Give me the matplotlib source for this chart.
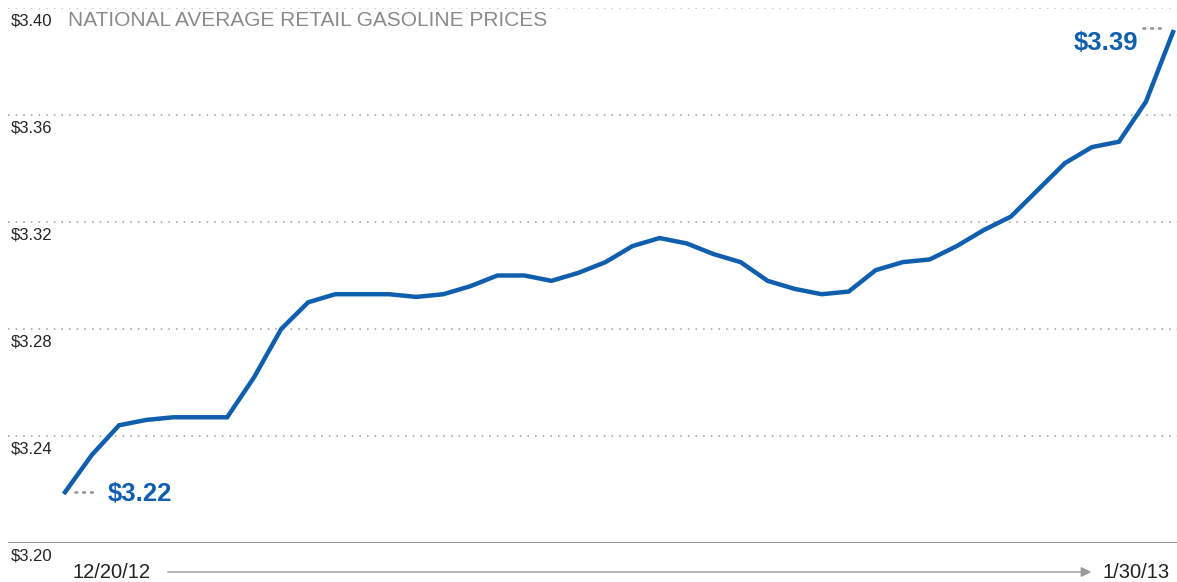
import matplotlib
matplotlib.use("Agg")
import matplotlib.pyplot as plt
import numpy as np

# daily national average, 12/20/12 .. 1/30/13
prices = [
    3.219, 3.233, 3.244, 3.246, 3.247, 3.247, 3.247, 3.262, 3.280, 3.290,
    3.293, 3.293, 3.293, 3.292, 3.293, 3.296, 3.300, 3.300, 3.298, 3.301,
    3.305, 3.311, 3.314, 3.312, 3.308, 3.305, 3.298, 3.295, 3.293, 3.294,
    3.302, 3.305, 3.306, 3.311, 3.317, 3.322, 3.332, 3.342, 3.348, 3.350,
    3.365, 3.391,
]
y_ticks = [3.20, 3.24, 3.28, 3.32, 3.36, 3.40]
y_labels = ["$3.20", "$3.24", "$3.28", "$3.32", "$3.36", "$3.40"]
start_label = "12/20/12"
end_label = "1/30/13"
first_label = "$3.22"
last_label = "$3.39"
title = "NATIONAL AVERAGE RETAIL GASOLINE PRICES"

BLUE = "#0f5fae"
GRID = "#9a9a9a"
TEXT = "#222222"
plt.rcParams["font.family"] = ["Liberation Sans", "DejaVu Sans"]

W, H = 1177, 582
fig = plt.figure(figsize=(W / 100, H / 100), dpi=100)
ax = fig.add_axes([8 / W, (H - 543) / H, 1169 / W, 535 / H])

x = np.arange(len(prices))
px = 1108 / (len(prices) - 1)
ax.set_xlim(-57 / px, len(prices) - 1 + 4 / px)
ax.set_ylim(y_ticks[0], y_ticks[-1])
ax.axis("off")

for v in y_ticks[1:]:
    ax.axhline(v, color=GRID if v < y_ticks[-1] else "#bbbbbb", lw=1.1,
               ls=(0, (1, 4)), zorder=1)
ax.axhline(y_ticks[0], color="#888888", lw=1.3, zorder=1)

for v, lab in zip(y_ticks, y_labels):
    ax.annotate(lab, xy=(0.002, v), xycoords=("axes fraction", "data"),
                xytext=(0, -4), textcoords="offset points", va="top",
                ha="left", fontsize=12, color=TEXT)

ax.text(60 / 1169, 1 - 3 / 535, title, transform=ax.transAxes, va="top",
        ha="left", fontsize=15, color="#8a8a8a")

ax.plot(x, prices, color=BLUE, lw=3.2, solid_joinstyle="miter", zorder=3,
        clip_on=False)

# end-point callouts with dotted leaders
ax.plot([x[0] + 0.37, x[0] + 1.18], [prices[0], prices[0]], color=GRID,
        lw=2, ls=(0, (0.6, 2.2)), dash_capstyle="round")
ax.annotate(first_label, xy=(x[0], prices[0]), xytext=(31, -1),
            textcoords="offset points", va="center", ha="left",
            fontsize=18.5, fontweight="bold", color=BLUE)
ax.plot([x[-1] - 1.1, x[-1] - 0.3], [prices[-1] + 0.0015, prices[-1] + 0.0015],
        color=GRID, lw=2, ls=(0, (0.6, 2.2)), dash_capstyle="round")
ax.annotate(last_label, xy=(x[-1], prices[-1]), xytext=(-25, -8),
            textcoords="offset points", va="center", ha="right",
            fontsize=18.5, fontweight="bold", color=BLUE)

# date range along the bottom
fig.text(72 / W, 10 / H, start_label, va="center", ha="left", fontsize=14.5,
         color=TEXT)
fig.text(1170 / W, 10 / H, end_label, va="center", ha="right", fontsize=14.5,
         color=TEXT)
fig.patches.append(matplotlib.patches.FancyArrowPatch(
    (165, 10), (1094, 10), transform=None, arrowstyle="-|>,head_length=6,head_width=3",
    color="#999999", lw=1, mutation_scale=1))

fig.savefig("out.png", dpi=100, facecolor="white")
